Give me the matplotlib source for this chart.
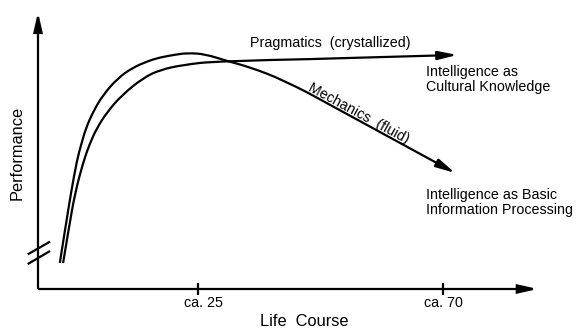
import matplotlib
matplotlib.use("Agg")
import matplotlib.pyplot as plt
from matplotlib.patches import FancyArrowPatch, ArrowStyle, PathPatch
from matplotlib.path import Path

# ---- data (age in years, performance in arbitrary units 0-100) ----
mech_age = [-0.4, 0.64, 1.65, 2.76, 3.5, 4.4, 5.7, 7.5, 10.3, 12.9, 15.8, 18.0,
            20.8, 23.1, 26.3, 30.3, 34.5, 40.6, 45.2, 72.2]
mech_perf = [9.4, 22.4, 34.7, 46.6, 52.0, 58.1, 63.9, 70.0, 76.2, 79.8, 82.3, 83.6,
             84.6, 85.2, 84.8, 82.3, 80.1, 75.5, 70.8, 41.9]

prag_age = [0.2, 1.29, 2.4, 3.86, 5.0, 6.4, 8.3, 11.0, 14.9, 18.0, 22.2, 28.5, 45.6, 72.6]
prag_perf = [9.4, 22.4, 34.7, 45.5, 52.0, 58.1, 63.9, 70.0, 76.2, 79.1, 80.9, 82.3, 83.0, 84.5]

tick_ages = [25, 70]
tick_labels = ["ca. 25", "ca. 70"]

FONT = ["Liberation Sans", "DejaVu Sans"]
plt.rcParams['font.family'] = FONT

fig = plt.figure(figsize=(5.83, 3.36), dpi=100)
ax = fig.add_axes([0, 0, 1, 1])
ax.set_xlim(-11.39, 95.70)
ax.set_ylim(-16.97, 104.33)
ax.axis('off')

lw = 1.6
hs = ArrowStyle('-|>', head_length=11.5, head_width=2.6)


def smooth_path(xs, ys):
    """Quadratic Bezier path using the read points as control points."""
    pts = list(zip(xs, ys))
    verts = [pts[0]]
    codes = [Path.MOVETO]
    for i in range(1, len(pts) - 1):
        mid = ((pts[i][0] + pts[i + 1][0]) / 2, (pts[i][1] + pts[i + 1][1]) / 2)
        if i == len(pts) - 2:
            mid = pts[i + 1]
        verts += [pts[i], mid]
        codes += [Path.CURVE3, Path.CURVE3]
    return Path(verts, codes)


# axes with arrows
x0 = -4.41
ax.add_patch(FancyArrowPatch((x0, 0), (x0, 100), arrowstyle=hs, mutation_scale=1,
                             lw=lw, color='black', shrinkA=0, shrinkB=0,
                             joinstyle='miter', capstyle='butt'))
ax.add_patch(FancyArrowPatch((x0, 0), (87.4, 0), arrowstyle=hs, mutation_scale=1,
                             lw=lw, color='black', shrinkA=0, shrinkB=0,
                             joinstyle='miter', capstyle='butt'))

# ticks
for a, lab, dx in zip(tick_ages, tick_labels, [0.9, 0.1]):
    ax.plot([a, a], [-2.17, 2.17], color='black', lw=lw, solid_capstyle='butt')
    ax.text(a + dx, -5.1, lab, ha='center', va='center', fontsize=10.3)

# axis break marks
ax.plot([-6.3, -2.2], [12.5, 17.1], color='black', lw=lw, solid_capstyle='butt')
ax.plot([-6.3, -2.2], [9.0, 13.7], color='black', lw=lw, solid_capstyle='butt')

# curves
for ages, perf in [(mech_age, mech_perf), (prag_age, prag_perf)]:
    ax.add_patch(PathPatch(smooth_path(ages[:-1], perf[:-1]), facecolor='none',
                           edgecolor='black', lw=lw, capstyle='butt'))
    ax.add_patch(FancyArrowPatch((ages[-2], perf[-2]), (ages[-1], perf[-1]),
                                 arrowstyle=hs, mutation_scale=1, lw=lw,
                                 color='black', shrinkA=0, shrinkB=0))

# labels
ax.text(34.5, 88.8, "Pragmatics  (crystallized)", ha='left', va='center', fontsize=10.3)
ax.text(66.9, 75.6, "Intelligence as\nCultural Knowledge", ha='left', va='center',
        fontsize=10.3, linespacing=1.1)
ax.text(66.9, 31.3, "Intelligence as Basic\nInformation Processing", ha='left',
        va='center', fontsize=10.3, linespacing=1.1)
ax.text(54.5, 63.3, "Mechanics  (fluid)", ha='center', va='center', fontsize=10.3,
        rotation=-28.4, rotation_mode='anchor')
ax.text(-8.27, 49.1, "Performance", ha='center', va='center', fontsize=11.8, rotation=90)
ax.text(44.45, -11.9, "Life  Course", ha='center', va='center', fontsize=11.8)

fig.savefig("out.png", dpi=100)
